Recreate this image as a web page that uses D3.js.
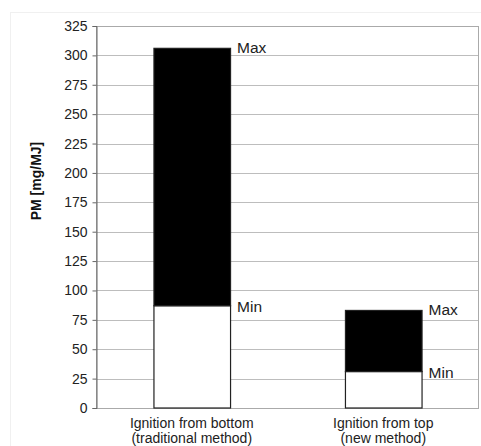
<!DOCTYPE html>
<html><head><meta charset="utf-8">
<script src="https://cdn.jsdelivr.net/npm/d3@7"></script>
<style>body{margin:0;background:#fff}svg{display:block}text{font-family:"Liberation Sans",Arial,sans-serif}</style>
</head><body><svg id="c" width="481" height="446"></svg>
<script>
const categories = ["Ignition from bottom|(traditional method)", "Ignition from top|(new method)"];
const minValues = [87, 31];
const maxValues = [306, 83];
const yTicks = [0,25,50,75,100,125,150,175,200,225,250,275,300,325];
const yLabel = "PM [mg/MJ]";

const svg = d3.select("#c");
const L = 96, R = 479, T = 26, B = 408;
svg.append("rect").attr("x",10.5).attr("y",12.5).attr("width",480).attr("height",440).attr("fill","none").attr("stroke","#f0f0f0");
const x = d3.scaleBand().domain(categories).range([L,R]).paddingInner(0.6).paddingOuter(0.3);
const y = d3.scaleLinear().domain([0,325]).range([B,T]);

// grid
svg.append("g").selectAll("line").data(yTicks).join("line")
  .attr("x1",L).attr("x2",R).attr("y1",d=>Math.round(y(d))+0.5).attr("y2",d=>Math.round(y(d))+0.5)
  .attr("stroke","#bdbdbd").attr("stroke-width",1);
// frame
svg.append("rect").attr("x",L+0.5).attr("y",Math.round(T)+0.5).attr("width",R-L-1).attr("height",B-T)
  .attr("fill","none").attr("stroke","#aaa");

// bars
const data = categories.map((c,i)=>({c,min:minValues[i],max:maxValues[i]}));
const g = svg.append("g");
g.selectAll("rect.lo").data(data).join("rect").attr("class","lo")
  .attr("x",d=>x(d.c)+0.5).attr("width",x.bandwidth())
  .attr("y",d=>y(d.min)).attr("height",d=>y(0)-y(d.min))
  .attr("fill","#fff").attr("stroke","#222").attr("stroke-width",1.2);
g.selectAll("rect.hi").data(data).join("rect").attr("class","hi")
  .attr("x",d=>x(d.c)+0.5).attr("width",x.bandwidth())
  .attr("y",d=>y(d.max)).attr("height",d=>y(d.min)-y(d.max))
  .attr("fill","#000").attr("stroke","#222").attr("stroke-width",1.2);

// labels Max/Min
data.forEach(d=>{
  const lx = x(d.c)+x.bandwidth()+7;
  svg.append("text").attr("x",lx).attr("y",y(d.max)+5).attr("font-size",15.5).attr("fill","#222").text("Max");
  svg.append("text").attr("x",lx).attr("y",y(d.min)+6).attr("font-size",15.5).attr("fill","#222").text("Min");
});

// y axis
const ya = d3.axisLeft(y).tickValues(yTicks).tickSize(4).tickPadding(5);
const yg = svg.append("g").attr("transform",`translate(${L+0.5},0)`).call(ya);
yg.select(".domain").attr("stroke","#666");
yg.selectAll(".tick line").attr("stroke","#666");
yg.selectAll("text").attr("font-size",14).attr("fill","#222").style("font-family","Liberation Sans, Arial, sans-serif");

svg.append("text").attr("transform",`translate(41,181) rotate(-90)`).attr("text-anchor","middle")
  .attr("font-size",14).attr("font-weight","bold").attr("fill","#111").text(yLabel);

// x labels
categories.forEach(c=>{
  const parts = c.split("|");
  const cx = x(c)+x.bandwidth()/2;
  parts.forEach((p,i)=>{
    svg.append("text").attr("x",cx).attr("y",428+i*15).attr("text-anchor","middle")
      .attr("font-size",14).attr("fill","#222").text(p);
  });
});
</script></body></html>
